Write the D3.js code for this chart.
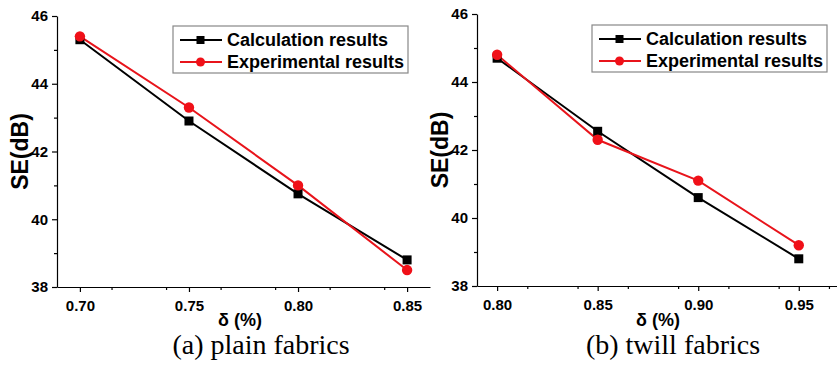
<!DOCTYPE html>
<meta charset="utf-8">
<style>
body { margin: 0; background: #fff; }
.axis path, .axis line { stroke: #000; stroke-width: 1.2; }
.axis text { font-family: "Liberation Sans", Arial, sans-serif; font-weight: bold; font-size: 15px; fill: #000; }
</style>
<body>
<svg width="837" height="367"></svg>
<script src="https://d3js.org/d3.v7.min.js"></script>
<script>

// panel (a) plain fabrics
var plainX = [0.70, 0.75, 0.80, 0.85];
var plainCalc = [45.3, 42.9, 40.75, 38.8];
var plainExp = [45.4, 43.3, 41.0, 38.5];

// panel (b) twill fabrics
var twillX = [0.80, 0.85, 0.90, 0.95];
var twillCalc = [44.7, 42.55, 40.6, 38.8];
var twillExp = [44.8, 42.3, 41.1, 39.2];

var yTicks = [38, 40, 42, 44, 46];
var seriesNames = ["Calculation results", "Experimental results"];
var captions = ["(a) plain fabrics", "(b) twill fabrics"];

var svg = d3.select("svg");

function drawPanel(p) {
	var x = d3.scaleLinear().domain(p.xdom).range([p.left, p.right]);
	var y = d3.scaleLinear().domain([38, 46]).range([p.bottom, p.top]);
	var g = svg.append("g");

	// minor ticks first, then major axes on top
	var xMinor = d3.range(p.xdom[0], p.xdom[1], 0.025).filter(function(v){ return v > p.xdom[0]; });
	g.append("g").attr("class","axis")
		.attr("transform","translate(0,"+p.bottom+")")
		.call(d3.axisBottom(x).tickValues(xMinor).tickSize(3).tickFormat(""))
		.select(".domain").remove();
	g.append("g").attr("class","axis")
		.attr("transform","translate("+p.left+",0)")
		.call(d3.axisLeft(y).tickValues(d3.range(39, 46, 2)).tickSize(3).tickFormat(""))
		.select(".domain").remove();

	g.append("g").attr("class","axis")
		.attr("transform","translate(0,"+p.bottom+")")
		.call(d3.axisBottom(x).tickValues(p.xs).tickSize(5).tickSizeOuter(0).tickPadding(8).tickFormat(d3.format(".2f")));
	g.append("g").attr("class","axis")
		.attr("transform","translate("+p.left+",0)")
		.call(d3.axisLeft(y).tickValues(yTicks).tickSize(5).tickSizeOuter(0).tickPadding(4));

	var line = d3.line().x(function(d){ return x(d[0]); }).y(function(d){ return y(d[1]); });
	var calc = p.xs.map(function(v,i){ return [v, p.calc[i]]; });
	var exp = p.xs.map(function(v,i){ return [v, p.exp[i]]; });

	g.append("path").attr("d", line(calc)).attr("fill","none").attr("stroke","#000").attr("stroke-width",2);
	g.append("path").attr("d", line(exp)).attr("fill","none").attr("stroke","#e8141b").attr("stroke-width",2);

	g.selectAll(".sq").data(calc).enter().append("rect")
		.attr("x", function(d){ return x(d[0])-4.5; })
		.attr("y", function(d){ return y(d[1])-4.5; })
		.attr("width", 9).attr("height", 9).attr("fill","#000");
	g.selectAll(".ci").data(exp).enter().append("circle")
		.attr("cx", function(d){ return x(d[0]); })
		.attr("cy", function(d){ return y(d[1]); })
		.attr("r", 5.2).attr("fill","#f01018");

	// legend
	var lg = g.append("g").attr("transform","translate("+p.legX+","+p.legY+")");
	lg.append("rect").attr("width",235).attr("height",47)
		.attr("fill","#fff").attr("stroke","#888").attr("stroke-width",1.2);
	var cols = ["#000","#e8141b"];
	seriesNames.forEach(function(name,i){
		var yy = 14 + i*22;
		lg.append("line").attr("x1",7).attr("x2",49).attr("y1",yy).attr("y2",yy)
			.attr("stroke",cols[i]).attr("stroke-width",2);
		if(i==0){
			lg.append("rect").attr("x",23.5).attr("y",yy-4).attr("width",8).attr("height",8).attr("fill","#000");
		} else {
			lg.append("circle").attr("cx",27.5).attr("cy",yy).attr("r",4.5).attr("fill","#f01018");
		}
		lg.append("text").attr("x",54).attr("y",yy+6)
			.style("font-family","Liberation Sans, Arial, sans-serif")
			.style("font-weight","bold").style("font-size","18px")
			.text(name);
	});

	// axis titles
	g.append("text")
		.attr("transform","translate("+p.ylabX+","+((p.top+p.bottom)/2)+") rotate(-90)")
		.attr("text-anchor","middle")
		.style("font-family","Liberation Sans, Arial, sans-serif")
		.style("font-weight","bold").style("font-size","23px")
		.text("SE(dB)");
	g.append("text")
		.attr("x", p.xlabX).attr("y", 326)
		.attr("text-anchor","middle")
		.style("font-family","Liberation Sans, Arial, sans-serif")
		.style("font-weight","bold").style("font-size","18px")
		.text("\u03b4 (%)");
	g.append("text")
		.attr("x", p.capX).attr("y", 354)
		.attr("text-anchor","middle")
		.style("font-family","Liberation Serif, Times New Roman, serif")
		.style("font-size","28px")
		.text(p.caption);
}

drawPanel({xs: plainX, calc: plainCalc, exp: plainExp, xdom: [0.6895, 0.8605],
	left: 57, right: 430, top: 16, bottom: 287, legX: 173, legY: 26,
	ylabX: 28, xlabX: 240, capX: 261, caption: captions[0]});

drawPanel({xs: twillX, calc: twillCalc, exp: twillExp, xdom: [0.79, 0.97],
	left: 477, right: 839, top: 14, bottom: 286, legX: 592, legY: 25,
	ylabX: 448, xlabX: 658, capX: 673, caption: captions[1]});

</script>
</body>
